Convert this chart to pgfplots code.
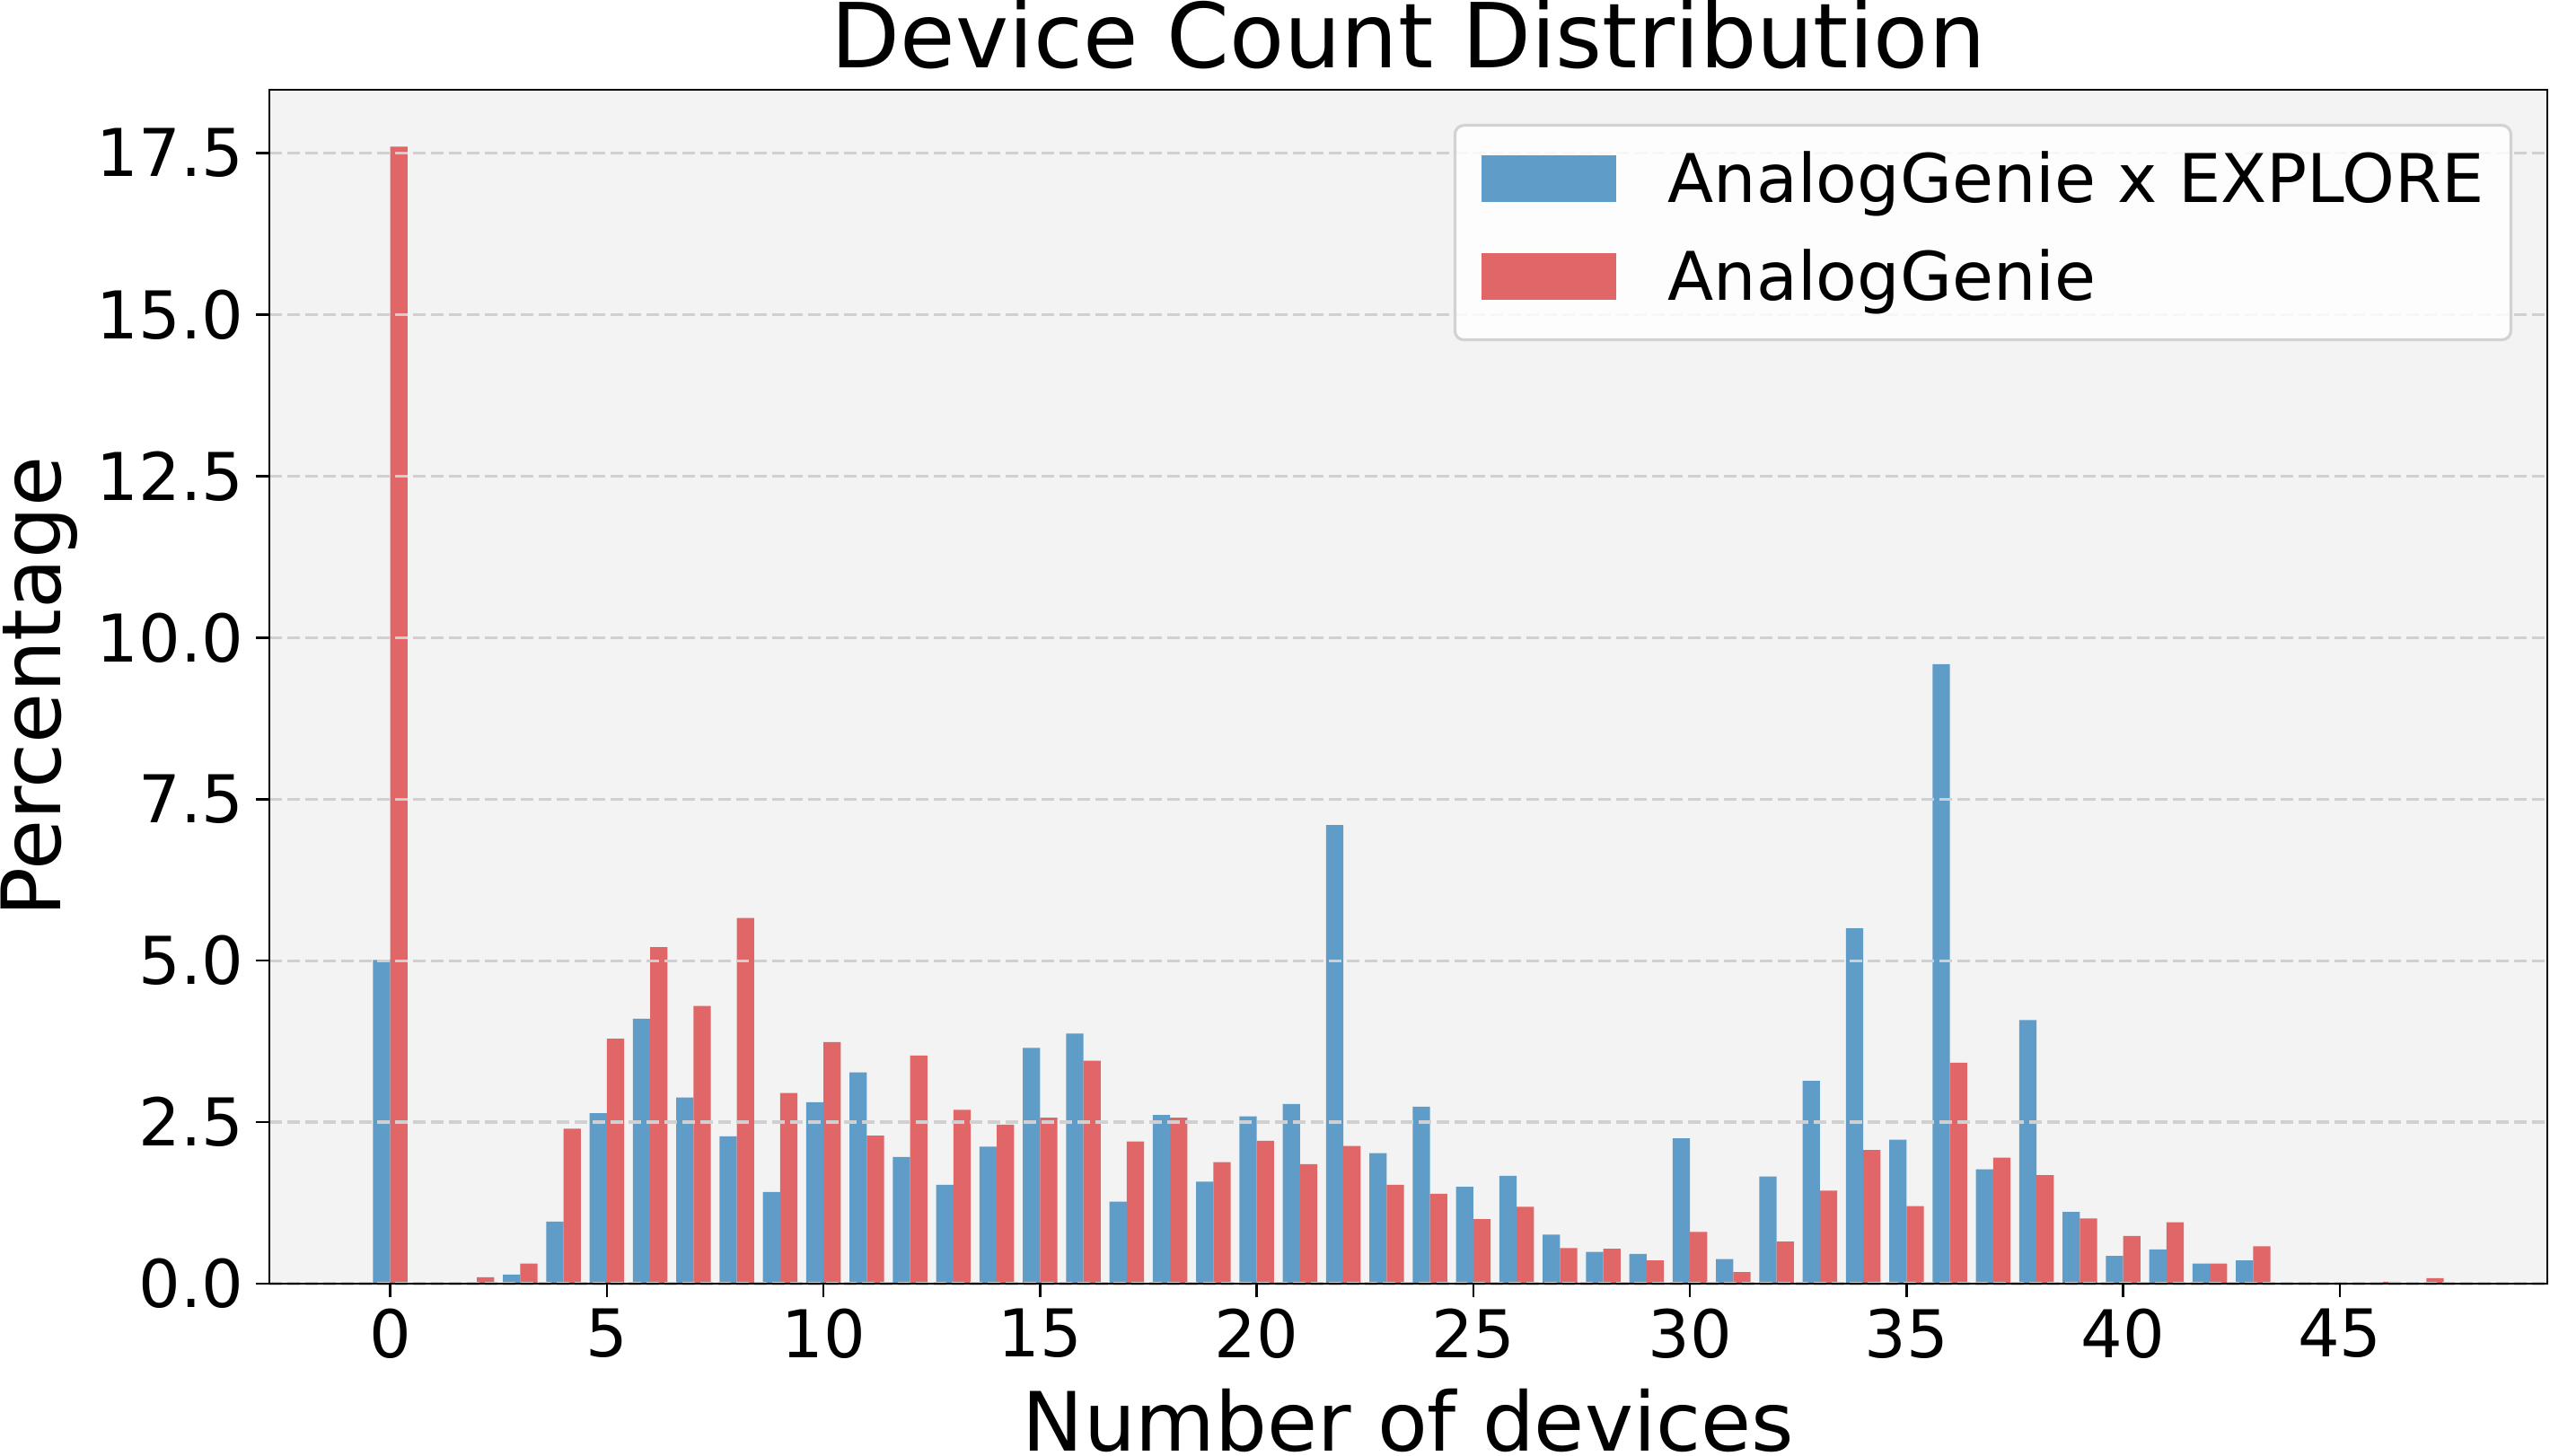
\documentclass[border=0pt]{standalone}
\usepackage{fontspec}
\setmainfont{DejaVu Sans}
\usepackage{pgfplots}
\pgfplotsset{compat=1.18}
\definecolor{cblue}{RGB}{95,157,200}
\definecolor{cred}{RGB}{224,102,104}
\definecolor{bgc}{RGB}{243,243,243}
\definecolor{gridc}{RGB}{208,208,208}
\definecolor{legc}{RGB}{210,210,210}
\begin{document}
\begin{tikzpicture}
\begin{axis}[
  at={(75pt,47.75pt)}, anchor=south west,
  scale only axis, width=634.25pt, height=332.5pt,
  xmin=-2.79, xmax=49.79, ymin=0, ymax=18.48,
  axis background/.style={fill=bgc},
  axis line style={line width=0.67pt, black},
  xtick={0,5,...,45}, ytick={0,2.5,5,7.5,10,12.5,15,17.5},
  xtick pos=lower, ytick pos=left,
  tick align=outside, major tick length=3.75pt,
  tick style={line width=0.67pt, black},
  ymajorgrids, grid style={gridc, dash pattern=on 3.5pt off 1.5pt, line width=0.8pt},
  axis on top,
  scaled ticks=false,
  /pgf/number format/assume math mode=true,
  yticklabel style={/pgf/number format/fixed, /pgf/number format/precision=1, /pgf/number format/fixed zerofill, xshift=-3.25pt},
  xticklabel style={yshift=-3pt},
  tick label style={font=\fontsize{18.35}{20}\selectfont, inner sep=0pt},
  title={Device Count Distribution},
  title style={font=\fontsize{25}{28}\selectfont, at={(axis description cs:0.5,1)}, anchor=base, yshift=0pt, inner sep=0pt},
  xlabel={Number of devices},
  xlabel style={font=\fontsize{22.8}{26}\selectfont, at={(axis description cs:0.5,0)}, anchor=base, yshift=-46.5pt, inner sep=0pt},
  ylabel={Percentage},
  ylabel style={font=\fontsize{22.8}{26}\selectfont, at={([xshift=-58pt]axis description cs:0,0.5)}, anchor=base, inner sep=0pt},
  legend style={at={(axis description cs:1,1)}, anchor=north east, xshift=-9.75pt, yshift=-9.5pt,
    draw=legc, line width=0.8pt, rounded corners=2.5pt, fill=white, fill opacity=0.85, text opacity=1,
    font=\fontsize{18.7}{20}\selectfont, inner xsep=7.4pt, inner ysep=7.2pt, row sep=9.15pt,
    nodes={inner sep=0pt, text depth=}, cells={anchor=base west},
    /tikz/every odd column/.append style={column sep=14.4pt}},
]
\addplot[ybar, bar width=0.4, bar shift=-0.2, fill=cblue, draw=none,
  legend image code/.code={\fill[cblue, sharp corners, fill opacity=1] (0pt,0pt) rectangle (37.5pt,13pt);}]
coordinates {
(0,5.01) (3,0.14) (4,0.96) (5,2.64) (6,4.10) (7,2.88) (8,2.28) (9,1.42)
(10,2.81) (11,3.27) (12,1.96) (13,1.53) (14,2.12) (15,3.65) (16,3.87) (17,1.27)
(18,2.61) (19,1.58) (20,2.59) (21,2.78) (22,7.10) (23,2.02) (24,2.74) (25,1.50)
(26,1.67) (27,0.76) (28,0.49) (29,0.46) (30,2.25) (31,0.38) (32,1.66) (33,3.14)
(34,5.50) (35,2.23) (36,9.59) (37,1.77) (38,4.08) (39,1.11) (40,0.43) (41,0.53)
(42,0.31) (43,0.36)
};
\addlegendentry{AnalogGenie x EXPLORE}
\addplot[ybar, bar width=0.4, bar shift=0.2, fill=cred, draw=none,
  legend image code/.code={\fill[cred, sharp corners, fill opacity=1] (0pt,0pt) rectangle (37.5pt,13pt);}]
coordinates {
(0,17.60) (2,0.10) (3,0.31) (4,2.40) (5,3.79) (6,5.21) (7,4.30) (8,5.66) (9,2.95)
(10,3.74) (11,2.29) (12,3.53) (13,2.69) (14,2.46) (15,2.57) (16,3.45) (17,2.20)
(18,2.57) (19,1.88) (20,2.21) (21,1.85) (22,2.13) (23,1.53) (24,1.39) (25,1.00)
(26,1.19) (27,0.55) (28,0.54) (29,0.36) (30,0.80) (31,0.18) (32,0.65) (33,1.44)
(34,2.07) (35,1.20) (36,3.42) (37,1.95) (38,1.68) (39,1.01) (40,0.74) (41,0.95)
(42,0.31) (43,0.58) (46,0.03) (47,0.085)
};
\addlegendentry{AnalogGenie}
\end{axis}
\pgfresetboundingbox
\useasboundingbox (0,0) rectangle (710pt,405.25pt);
\end{tikzpicture}
\end{document}
